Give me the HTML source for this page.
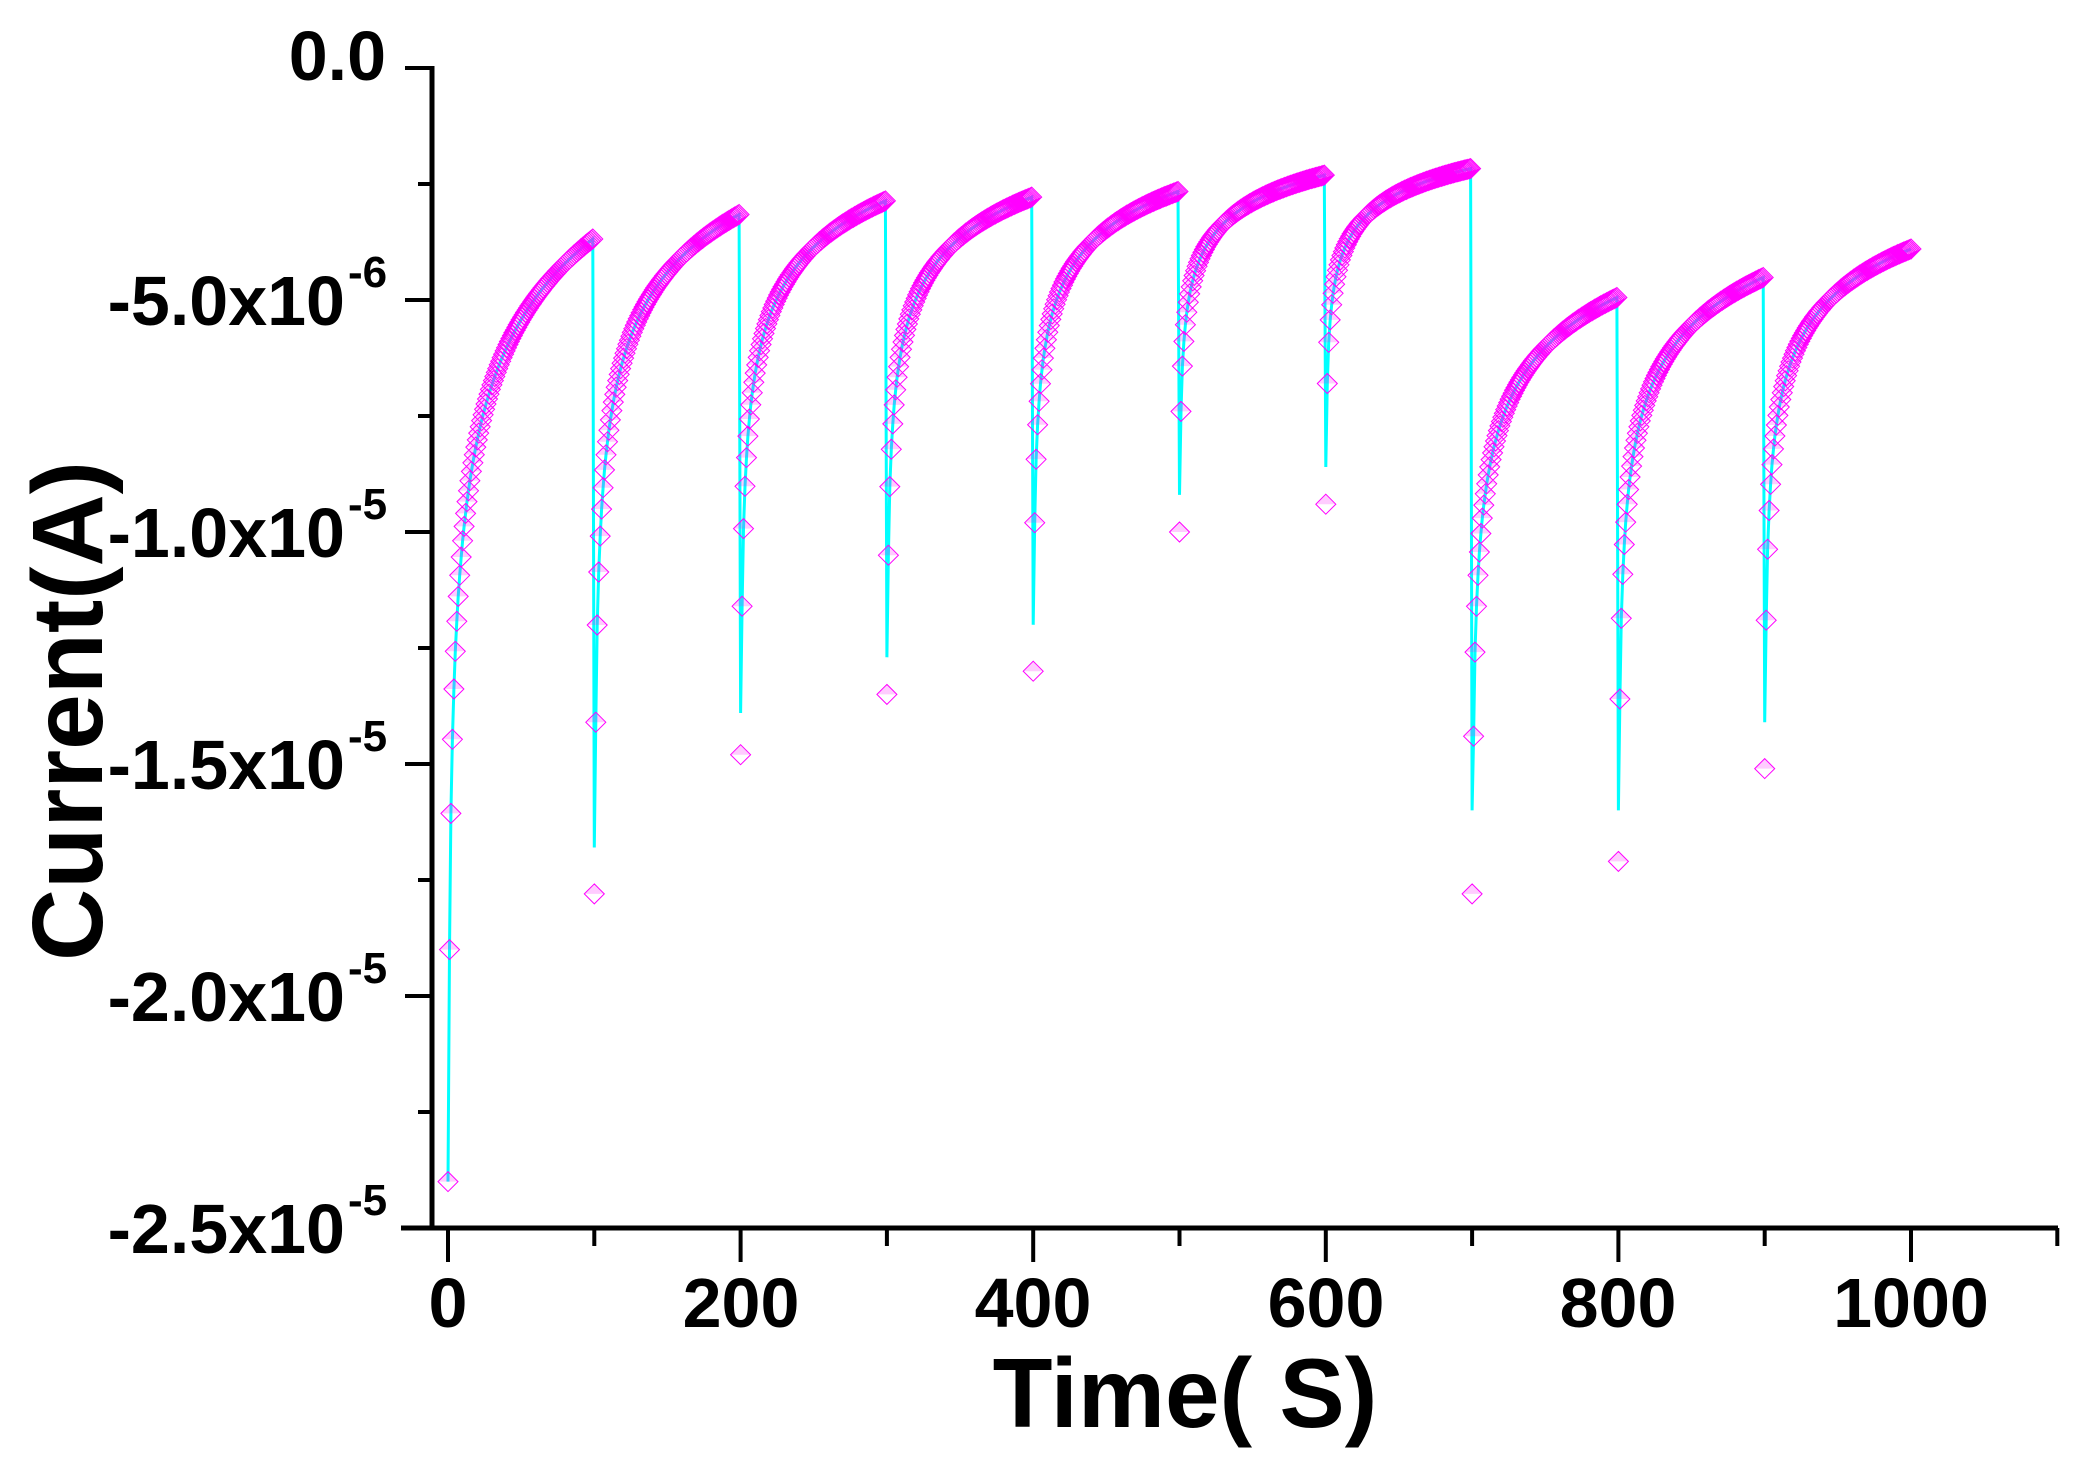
<!DOCTYPE html>
<html><head><meta charset="utf-8"><style>
html,body{margin:0;padding:0;background:#fff;}
svg{display:block;}
text{font-family:"Liberation Sans",Arial,sans-serif;font-weight:bold;fill:#000;}
</style></head><body>
<svg id="s" width="2074" height="1458" viewBox="0 0 2074 1458" xmlns="http://www.w3.org/2000/svg">
<rect width="2074" height="1458" fill="#fff"/>
<g id="data"></g>
<line x1="432" y1="66" x2="432" y2="1230" stroke="#000" stroke-width="5"/>
<line x1="401" y1="1228" x2="2058" y2="1228" stroke="#000" stroke-width="5"/>
<g id="ticks" stroke="#000" stroke-width="4"></g>
<g font-size="70" text-anchor="end">
<text x="386" y="80">0.0</text>
<text x="345" y="325">-5.0x10</text>
<text x="345" y="557">-1.0x10</text>
<text x="345" y="789">-1.5x10</text>
<text x="345" y="1021">-2.0x10</text>
<text x="345" y="1253">-2.5x10</text>
</g>
<g font-size="44">
<text x="348" y="287">-6</text>
<text x="348" y="519">-5</text>
<text x="348" y="751">-5</text>
<text x="348" y="983">-5</text>
<text x="348" y="1215">-5</text>
</g>
<g font-size="70" text-anchor="middle">
<text x="448" y="1327">0</text>
<text x="741" y="1327">200</text>
<text x="1033" y="1327">400</text>
<text x="1326" y="1327">600</text>
<text x="1618" y="1327">800</text>
<text x="1911" y="1327">1000</text>
</g>
<text x="1185" y="1427" font-size="98" text-anchor="middle">Time( S)</text>
<text transform="translate(102,711) rotate(-90)" font-size="100" text-anchor="middle">Current(A)</text>
</svg>
<script>
(function(){
var NS="http://www.w3.org/2000/svg";
function X(t){return 448+t*1.463;}
function Y(v){return 68+v*46.4;}
var tk=document.getElementById("ticks");
function ln(p,x1,y1,x2,y2){var l=document.createElementNS(NS,"line");l.setAttribute("x1",x1);l.setAttribute("y1",y1);l.setAttribute("x2",x2);l.setAttribute("y2",y2);p.appendChild(l);}
for(var i=0;i<=10;i++){var y=68+i*116;ln(tk,i%2?418:405,y,432,y);}
for(var i=0;i<=11;i++){var x=X(i*100);ln(tk,x,1228,x,i%2?1246:1262);}
var seg=[[24,24,19,3.66],[17.8,16.8,14.1,3.14],[14.8,13.9,11.6,2.85],[13.5,12.7,10.5,2.77],[13.0,12.0,9.8,2.65],[10.0,9.2,7.4,2.3],[9.4,8.6,6.8,2.16],[17.8,16.0,14.4,4.93],[17.1,16.0,13.6,4.5],[15.1,14.1,11.9,3.9]];
var a=0.13,N=100,gN=Math.pow(N,-a);
var linePts=[],marks=[];
for(var k=0;k<10;k++){
 var s=seg[k];
 for(var t=0;t<=N-(k<9?1:0);t++){
  var v,lv;
  if(t==0){v=s[0];lv=s[1];}
  else{var g=(Math.pow(t,-a)-gN)/(1-gN);v=s[3]+(s[2]-s[3])*g;lv=v;}
  var x=X(k*100+t);
  linePts.push(x.toFixed(1)+","+Y(lv).toFixed(1));
  marks.push([x,Y(v)]);
 }
}
var d=document.getElementById("data");
var pl=document.createElementNS(NS,"polyline");
pl.setAttribute("points",linePts.join(" "));pl.setAttribute("fill","none");pl.setAttribute("stroke","#00ffff");pl.setAttribute("stroke-width","3");
d.appendChild(pl);
var r=10,ph="",pf="";
marks.forEach(function(m){var x=m[0],y=m[1];
 ph+="M"+x.toFixed(1)+" "+(y-r).toFixed(1)+"L"+(x+r).toFixed(1)+" "+y.toFixed(1)+"L"+x.toFixed(1)+" "+(y+r).toFixed(1)+"L"+(x-r).toFixed(1)+" "+y.toFixed(1)+"Z";
 pf+="M"+x.toFixed(1)+" "+(y-r).toFixed(1)+"L"+(x+r).toFixed(1)+" "+y.toFixed(1)+"L"+(x-r).toFixed(1)+" "+y.toFixed(1)+"Z";
});
var p1=document.createElementNS(NS,"path");p1.setAttribute("d",ph);p1.setAttribute("fill","none");p1.setAttribute("stroke","#ff00ff");p1.setAttribute("stroke-width","1");d.appendChild(p1);
var p2=document.createElementNS(NS,"path");p2.setAttribute("d",pf);p2.setAttribute("fill","#ff00ff");p2.setAttribute("fill-opacity","0.2");d.appendChild(p2);
})();
</script>
</body></html>
